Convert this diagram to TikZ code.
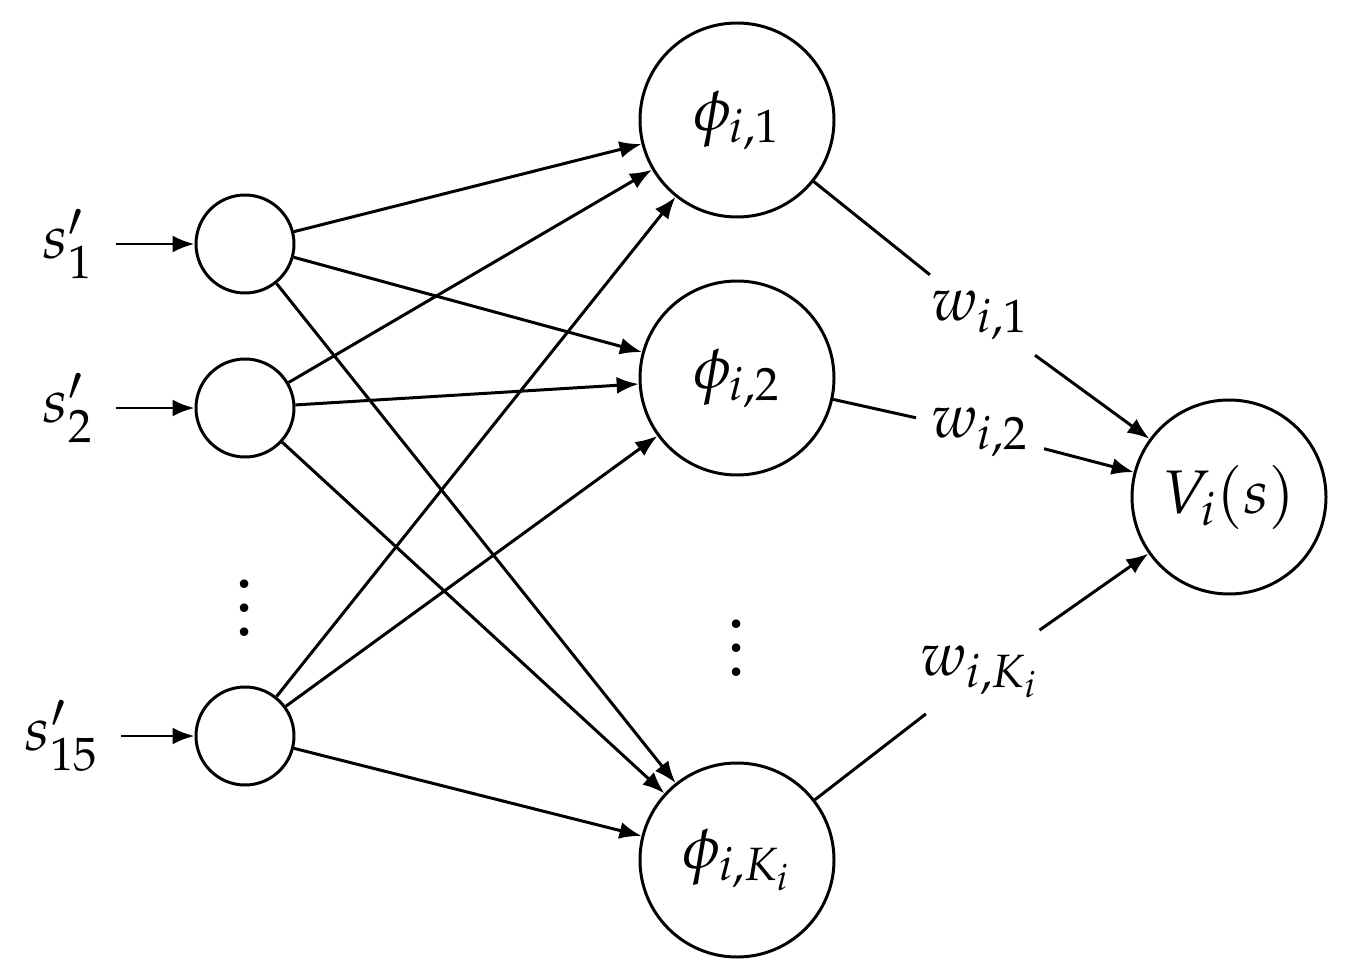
\documentclass[tikz,border=0pt]{standalone}
\usepackage{amsmath}
\usepackage{mathpazo}
\usetikzlibrary{arrows.meta,positioning}

\begin{document}
\begin{tikzpicture}[
	font=\fontsize{17.5}{21}\selectfont,
	unit/.style = {draw, circle, line width=0.85pt, inner sep=0pt, minimum size=0.98cm},
	feat/.style = {draw, circle, line width=0.85pt, inner sep=0pt, minimum size=1.94cm},
	wlabel/.style = {inner sep=0.15cm},
	vdot/.style = {scale=1.7, inner sep=0pt},
	con/.style = {line width=0.85pt, -{Latex[length=2.2mm,width=1.7mm]}}]
	
	\useasboundingbox (0,0) rectangle (13.45,-9.76);
	
	% input layer
	\node[unit] (in1) at (2.45,-2.44) {};
	\node[unit] (in2) at (2.45,-4.08) {};
	\node[unit] (in3) at (2.45,-7.36) {};
	\node (s1) at (0.68,-2.44) {$s'_1$};
	\node (s2) at (0.68,-4.08) {$s'_2$};
	\node (s3) at (0.62,-7.36) {$s'_{15}$};
	\node[vdot] (dotsin) at (2.45,-5.90) {$\vdots$};
	
	% features
	\node[feat] (phi1) at (7.37,-1.20) {$\phi_{i,1}$};
	\node[feat] (phi2) at (7.37,-3.78) {$\phi_{i,2}$};
	\node[feat] (phiK) at (7.37,-8.60) {$\phi_{i,K_i}$};
	\node[vdot] (dotsfeat) at (7.37,-6.30) {$\vdots$};
	
	% output
	\node[feat] (V) at (12.29,-4.97) {$V_i(s)$};
	
	\foreach \s in {1,2,3}
	{
		\draw[con, shorten <=1mm] (s\s) -- (in\s);
		\foreach \t in {1,2,K}
			\draw[con] (in\s) -- (phi\t);
	}
	
	\node[wlabel] (w1) at (9.80,-3.15) {$w_{i,1}$};
	\node[wlabel] (w2) at (9.80,-4.32) {$w_{i,2}$};
	\node[wlabel] (wK) at (9.80,-6.72) {$w_{i,K_i}$};
	
	\foreach \t in {1,2,K}
	{
		\draw[line width=0.85pt] (phi\t) -- (w\t);
		\draw[con] (w\t) -- (V);
	}
\end{tikzpicture}
\end{document}
